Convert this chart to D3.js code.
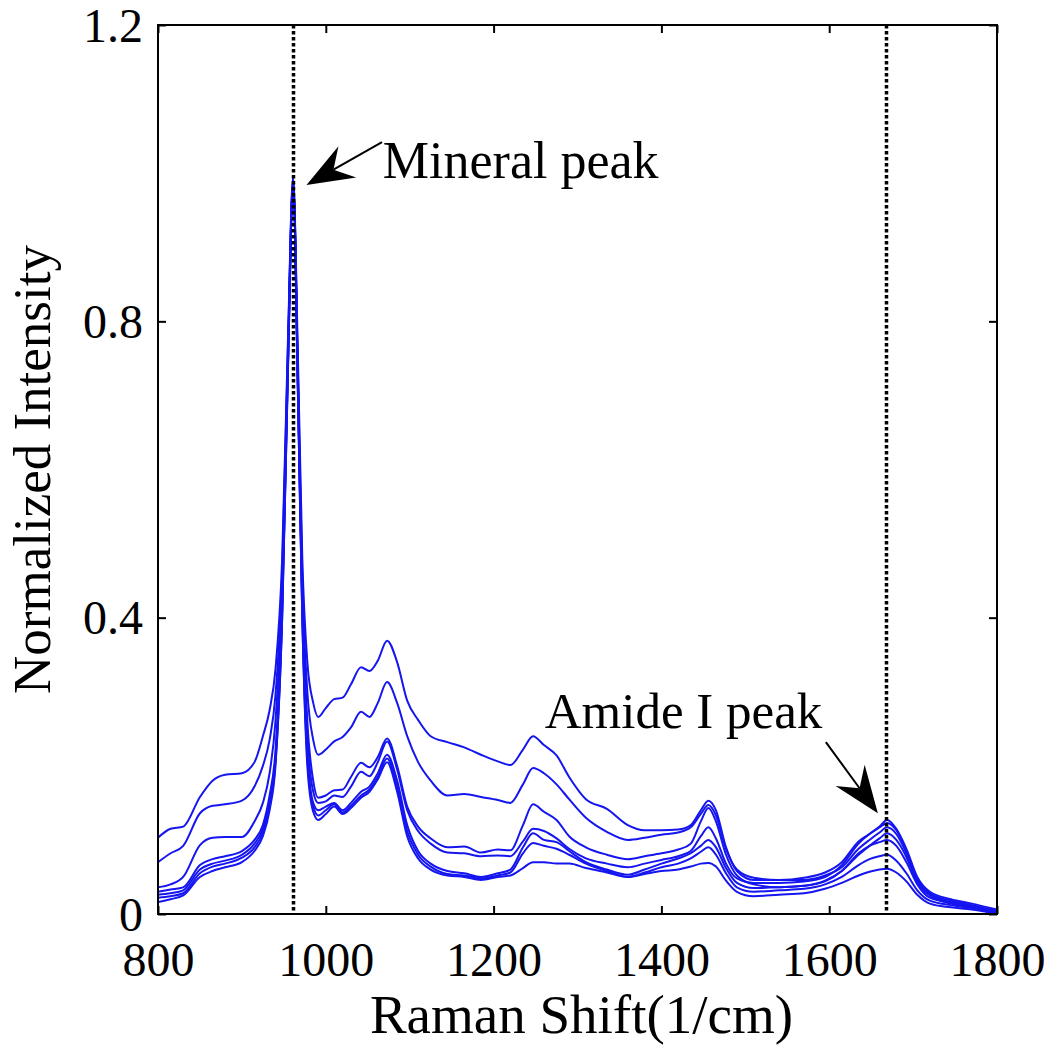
<!DOCTYPE html>
<html>
<head>
<meta charset="utf-8">
<script src="https://cdn.jsdelivr.net/npm/d3@7"></script>
<style>
  body { margin: 0; background: #fff; }
  .spec { fill: none; stroke: #1515f0; stroke-width: 2; stroke-linejoin: round; }
</style>
</head>
<body>
<svg width="1050" height="1045"></svg>
<script>
// Raman shift grid (1/cm)
var shifts = [800, 815, 830, 850, 865, 880, 900, 915, 925, 933, 940, 948, 955, 961, 967, 972, 978, 985, 991,
  1000, 1010, 1020, 1030, 1042, 1052, 1062, 1073, 1085, 1097, 1110, 1125, 1145, 1165, 1185, 1205, 1220,
  1235, 1247, 1260, 1275, 1290, 1310, 1335, 1360, 1380, 1400, 1420, 1435, 1447, 1456, 1465, 1477, 1490,
  1510, 1540, 1570, 1595, 1615, 1635, 1648, 1660, 1669, 1680, 1692, 1705, 1720, 1745, 1770, 1800];

var specA = [0.103, 0.115, 0.118, 0.158, 0.180, 0.188, 0.190, 0.205, 0.240, 0.275, 0.33, 0.48, 0.78, 0.995, 0.74, 0.48, 0.34, 0.285, 0.266,
  0.278, 0.290, 0.292, 0.310, 0.333, 0.328, 0.342, 0.369, 0.340, 0.288, 0.262, 0.240, 0.232, 0.225, 0.215, 0.206, 0.201,
  0.222, 0.240, 0.228, 0.214, 0.185, 0.155, 0.142, 0.120, 0.113, 0.113, 0.114, 0.120, 0.140, 0.153, 0.140, 0.090, 0.058,
  0.046, 0.046, 0.049, 0.056, 0.070, 0.098, 0.108, 0.118, 0.127, 0.115, 0.088, 0.050, 0.030, 0.020, 0.014, 0.006];
var specB = [0.070, 0.082, 0.092, 0.136, 0.146, 0.148, 0.153, 0.172, 0.200, 0.235, 0.295, 0.46, 0.77, 0.99, 0.72, 0.45, 0.30, 0.235, 0.215,
  0.222, 0.233, 0.239, 0.252, 0.273, 0.266, 0.285, 0.313, 0.285, 0.240, 0.205, 0.180, 0.160, 0.162, 0.158, 0.154, 0.150,
  0.175, 0.197, 0.190, 0.175, 0.155, 0.130, 0.111, 0.100, 0.103, 0.107, 0.110, 0.117, 0.135, 0.147, 0.133, 0.088, 0.060,
  0.049, 0.046, 0.046, 0.052, 0.063, 0.088, 0.100, 0.110, 0.117, 0.108, 0.082, 0.045, 0.027, 0.016, 0.011, 0.003];
var specC = [0.036, 0.040, 0.050, 0.093, 0.103, 0.104, 0.104, 0.125, 0.150, 0.190, 0.26, 0.44, 0.76, 0.99, 0.71, 0.43, 0.26, 0.180, 0.157,
  0.160, 0.167, 0.168, 0.185, 0.204, 0.198, 0.212, 0.237, 0.200, 0.145, 0.118, 0.102, 0.090, 0.091, 0.083, 0.087, 0.086,
  0.120, 0.148, 0.138, 0.127, 0.105, 0.090, 0.080, 0.074, 0.078, 0.082, 0.087, 0.095, 0.125, 0.143, 0.125, 0.080, 0.052,
  0.040, 0.036, 0.038, 0.045, 0.058, 0.080, 0.092, 0.102, 0.109, 0.100, 0.077, 0.042, 0.025, 0.014, 0.009, 0.001];
var specD = [0.030, 0.033, 0.036, 0.066, 0.074, 0.078, 0.085, 0.100, 0.120, 0.160, 0.22, 0.42, 0.75, 0.985, 0.70, 0.42, 0.24, 0.165, 0.150,
  0.152, 0.160, 0.158, 0.172, 0.192, 0.186, 0.205, 0.233, 0.195, 0.140, 0.112, 0.095, 0.083, 0.082, 0.078, 0.079, 0.078,
  0.098, 0.115, 0.112, 0.102, 0.088, 0.075, 0.068, 0.063, 0.068, 0.073, 0.078, 0.085, 0.105, 0.117, 0.102, 0.068, 0.048,
  0.042, 0.042, 0.044, 0.050, 0.066, 0.095, 0.108, 0.117, 0.123, 0.113, 0.085, 0.048, 0.028, 0.018, 0.012, 0.004];
var specE = [0.026, 0.028, 0.032, 0.060, 0.068, 0.072, 0.080, 0.095, 0.115, 0.150, 0.21, 0.41, 0.75, 0.985, 0.70, 0.41, 0.22, 0.150, 0.140,
  0.145, 0.150, 0.140, 0.150, 0.165, 0.172, 0.190, 0.215, 0.180, 0.120, 0.085, 0.068, 0.058, 0.055, 0.050, 0.055, 0.060,
  0.090, 0.109, 0.100, 0.097, 0.085, 0.070, 0.060, 0.053, 0.060, 0.068, 0.075, 0.082, 0.092, 0.100, 0.090, 0.062, 0.042,
  0.035, 0.036, 0.038, 0.044, 0.058, 0.082, 0.092, 0.097, 0.100, 0.092, 0.070, 0.040, 0.022, 0.015, 0.010, 0.002];
var specF = [0.022, 0.024, 0.028, 0.055, 0.064, 0.068, 0.076, 0.090, 0.110, 0.145, 0.205, 0.40, 0.74, 0.985, 0.69, 0.40, 0.21, 0.145, 0.133,
  0.140, 0.148, 0.137, 0.146, 0.160, 0.168, 0.185, 0.210, 0.172, 0.112, 0.080, 0.064, 0.054, 0.052, 0.048, 0.052, 0.056,
  0.082, 0.096, 0.092, 0.088, 0.080, 0.068, 0.058, 0.050, 0.056, 0.063, 0.068, 0.075, 0.084, 0.090, 0.080, 0.055, 0.036,
  0.030, 0.032, 0.034, 0.040, 0.050, 0.066, 0.074, 0.078, 0.080, 0.072, 0.055, 0.032, 0.018, 0.012, 0.008, 0.001];
var specG = [0.016, 0.020, 0.025, 0.050, 0.058, 0.063, 0.070, 0.085, 0.105, 0.140, 0.20, 0.40, 0.74, 0.985, 0.69, 0.40, 0.20, 0.138, 0.127,
  0.135, 0.145, 0.135, 0.143, 0.157, 0.165, 0.182, 0.205, 0.165, 0.105, 0.075, 0.060, 0.052, 0.050, 0.046, 0.050, 0.052,
  0.062, 0.070, 0.070, 0.068, 0.068, 0.062, 0.056, 0.050, 0.054, 0.058, 0.060, 0.064, 0.068, 0.069, 0.064, 0.045, 0.030,
  0.024, 0.026, 0.028, 0.034, 0.042, 0.052, 0.057, 0.060, 0.061, 0.056, 0.044, 0.026, 0.014, 0.009, 0.006, 0.000];

var spectra = [specA, specB, specC, specD, specE, specF, specG];

var xTicks = [800, 1000, 1200, 1400, 1600, 1800];
var yTicks = [0, 0.4, 0.8, 1.2];
var peakLines = [961, 1668];

// annotation: label anchor, arrow tail, arrow tip (data units)
var notes = [
  { label: "Mineral peak", size: 52, tx: 1068, ty: 0.993, x0: 1067, y0: 1.042, x1: 977, y1: 0.984 },
  { label: "Amide I peak", size: 51, tx: 1261, ty: 0.251, x0: 1596, y0: 0.232, x1: 1658, y1: 0.136 }
];

var serif = '"Liberation Serif", "Times New Roman", Times, serif';

var svg = d3.select("svg"),
    margin = {top: 25, right: 53, bottom: 131, left: 158},
    width = +svg.attr("width") - margin.left - margin.right,
    height = +svg.attr("height") - margin.top - margin.bottom,
    g = svg.append("g").attr("transform", "translate(" + margin.left + "," + margin.top + ")");

var x = d3.scaleLinear().domain([800, 1800]).range([0, width]);
var y = d3.scaleLinear().domain([0, 1.2]).range([height, 0]);

var line = d3.line()
    .x(function(d, i) { return x(shifts[i]); })
    .y(function(d) { return y(d); })
    .curve(d3.curveMonotoneX);

g.append("defs").append("clipPath")
    .attr("id", "clip")
  .append("rect")
    .attr("width", width)
    .attr("height", height);

// spectra
g.append("g")
    .attr("clip-path", "url(#clip)")
  .selectAll("path")
  .data(spectra)
  .enter().append("path")
    .attr("class", "spec")
    .attr("d", line);

// dotted peak markers
g.selectAll(".peak")
  .data(peakLines)
  .enter().append("line")
    .attr("class", "peak")
    .attr("x1", function(d) { return Math.round(x(d)) + 0.5; })
    .attr("x2", function(d) { return Math.round(x(d)) + 0.5; })
    .attr("y1", 0)
    .attr("y2", height)
    .attr("stroke", "#000")
    .attr("stroke-width", 3.5)
    .attr("stroke-dasharray", "3.5,2.5");

// axes, ticks pointing inward
function styleAxis(sel) {
    sel.select(".domain").remove();
    sel.attr("font-family", null).attr("font-size", null);
    sel.selectAll(".tick line").attr("stroke", "#000").attr("stroke-width", 2);
}

var xAxis = g.append("g")
    .attr("transform", "translate(0," + height + ")")
    .call(d3.axisBottom(x).tickValues(xTicks).tickSize(-8).tickPadding(0).tickFormat(d3.format("d")));
styleAxis(xAxis);
xAxis.selectAll("text")
    .attr("y", 62).attr("dy", null)
    .style("font-family", serif)
    .style("font-size", "48px")
    .style("fill", "#000");

var yAxis = g.append("g")
    .call(d3.axisLeft(y).tickValues(yTicks).tickSize(-8).tickPadding(0)
      .tickFormat(function(d) { return d === 0 ? "0" : d3.format(".1f")(d); }));
styleAxis(yAxis);
yAxis.selectAll("text")
    .attr("x", -15).attr("dy", 16)
    .style("font-family", serif)
    .style("font-size", "48px")
    .style("fill", "#000");

var topAxis = g.append("g")
    .call(d3.axisTop(x).tickValues(xTicks).tickSize(-8).tickFormat(""));
styleAxis(topAxis);

var rightAxis = g.append("g")
    .attr("transform", "translate(" + width + ",0)")
    .call(d3.axisRight(y).tickValues(yTicks).tickSize(-8).tickFormat(""));
styleAxis(rightAxis);

// frame
g.append("rect")
    .attr("width", width)
    .attr("height", height)
    .attr("fill", "none")
    .attr("stroke", "#000")
    .attr("stroke-width", 2);

// axis titles
svg.append("text")
    .attr("x", margin.left + width / 2 + 4)
    .attr("y", 1033)
    .attr("text-anchor", "middle")
    .style("font-family", serif)
    .style("font-size", "55px")
    .text("Raman Shift(1/cm)");

svg.append("text")
    .attr("transform", "translate(50," + (margin.top + height / 2) + ") rotate(-90)")
    .attr("text-anchor", "middle")
    .style("font-family", serif)
    .style("font-size", "53px")
    .text("Normalized Intensity");

// annotations with filled arrowheads
var headLen = 47, headHalf = 18, notch = 31;

notes.forEach(function(n) {
    var px0 = x(n.x0), py0 = y(n.y0), px1 = x(n.x1), py1 = y(n.y1);
    var dx = px1 - px0, dy = py1 - py0, len = Math.sqrt(dx * dx + dy * dy);
    var ux = dx / len, uy = dy / len, nx = -uy, ny = ux;

    g.append("line")
        .attr("x1", px0).attr("y1", py0)
        .attr("x2", px1 - ux * notch).attr("y2", py1 - uy * notch)
        .attr("stroke", "#000").attr("stroke-width", 2);

    var bx = px1 - ux * headLen, by = py1 - uy * headLen;
    var pts = [
        [px1, py1],
        [bx + nx * headHalf, by + ny * headHalf],
        [px1 - ux * notch, py1 - uy * notch],
        [bx - nx * headHalf, by - ny * headHalf]
    ];
    g.append("path")
        .attr("d", "M" + pts.join("L") + "Z")
        .attr("fill", "#000");

    g.append("text")
        .attr("x", x(n.tx))
        .attr("y", y(n.ty))
        .style("font-family", serif)
        .style("font-size", n.size + "px")
        .text(n.label);
});
</script>
</body>
</html>
